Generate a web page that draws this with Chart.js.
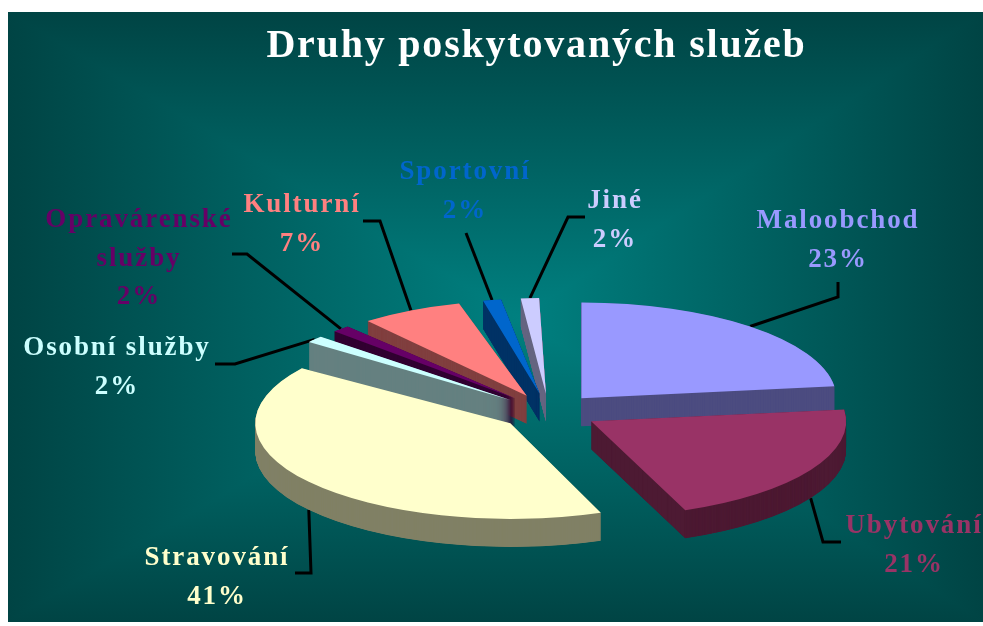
<!DOCTYPE html>
<html lang="cs">
<head>
<meta charset="utf-8">
<title>Druhy poskytovaných služeb</title>
<style>html,body{margin:0;padding:0;background:#fff}canvas{display:block}</style>
<script src="https://cdn.jsdelivr.net/npm/chart.js@4/dist/chart.umd.min.js"></script>
</head>
<body>
<canvas id="c" width="983" height="626"></canvas>
<script>
const titleText = 'Druhy poskytovaných služeb';
const categories = ['Maloobchod','Ubytování','Stravování','Osobní služby','Opravárenské služby','Kulturní','Sportovní','Jiné'];
const values = [23,21,41,2,2,7,2,2];
const topColors = ['#9999FF','#993366','#FFFFCC','#CCFFFF','#660066','#FF8080','#0066CC','#CCCCFF'];
const sideColors = ['#4D4D80','#4D1A33','#808066','#668080','#330033','#804040','#003366','#666680'];

// Layout of the annotations (text and leader elbows), separate from data
const labelLines = [['Maloobchod'],['Ubytování'],['Stravování'],['Osobní služby'],['Opravárenské','služby'],['Kulturní'],['Sportovní'],['Jiné']];
const labelCenters = [838,914,217,117,139,302,465,615];
const labelBaselines = [228,533,565,355,227,212,179,208];
const lineStep = 38.5;
const elbows = [
  [[838,282],[838,297]],
  [[841,542],[823,542]],
  [[295,573],[311,573]],
  [[215,364],[235,364]],
  [[232,254],[247,254]],
  [[363,221],[380,221]],
  [[466,233]],
  [[585,217],[568,217]]
];

const PIE = {cx:549, cy:412, radius:255, explode:49, tilt:0.375, depth:28};

const total = values.reduce((a,b)=>a+b,0);
// Chart.js moves an arc by offset/4
const offsetOption = PIE.explode*4;

function project(arc, ctx, dy){
  ctx.translate(PIE.cx, PIE.cy+dy);
  ctx.scale(1, PIE.tilt);
  ctx.translate(-arc.x, -arc.y);
}
function paintArc(chart, arc, color, dy){
  const ctx = chart.ctx, orig = arc.options, origR = arc.outerRadius;
  const o = Object.create(orig);
  o.backgroundColor = color;
  arc.options = o;
  // Chart.js also grows narrow exploded arcs by offset/4 * fix; take that back out
  const fix = 1 - Math.sin(Math.min(Math.PI, arc.circumference));
  arc.outerRadius = origR - PIE.explode*fix;
  ctx.save();
  project(arc, ctx, dy);
  arc.draw(ctx);
  ctx.restore();
  arc.options = orig;
  arc.outerRadius = origR;
}
function rimPoint(arc){
  const mid = (arc.startAngle+arc.endAngle)/2;
  const ax = PIE.cx + Math.cos(mid)*PIE.explode;
  const ay = PIE.cy + Math.sin(mid)*PIE.explode*PIE.tilt;
  return {x: ax+Math.cos(mid)*PIE.radius,
          y: ay+Math.sin(mid)*PIE.radius*PIE.tilt + (Math.sin(mid)>0.3?PIE.depth:0)};
}

const pie3d = {
  id:'pie3d',
  beforeDraw(chart){
    const ctx = chart.ctx, W = chart.width, H = chart.height;
    ctx.save();
    ctx.fillStyle = '#fff';
    ctx.fillRect(0,0,W,H);
    const x0=8,y0=12,x1=983,y1=622,mx=520,my=318;
    const edge='#004444', mid='#008080';
    const gx = ctx.createLinearGradient(x0,0,x1,0);
    const px=(mx-x0)/(x1-x0);
    gx.addColorStop(0,edge);gx.addColorStop(px,mid);gx.addColorStop(1,edge);
    ctx.fillStyle = gx;
    ctx.fillRect(x0,y0,x1-x0,y1-y0);
    const gy = ctx.createLinearGradient(0,y0,0,y1);
    const py=(my-y0)/(y1-y0);
    gy.addColorStop(0,edge);gy.addColorStop(py,mid);gy.addColorStop(1,edge);
    ctx.globalCompositeOperation='darken';
    ctx.fillStyle = gy;
    ctx.fillRect(x0,y0,x1-x0,y1-y0);
    ctx.restore();
    ctx.letterSpacing = '1.8px';
  },
  beforeDatasetDraw(chart,args){
    const ctx = chart.ctx;
    const arcs = args.meta.data;
    const order = arcs.map((a,i)=>i).sort((p,q)=>{
      const mp=(arcs[p].startAngle+arcs[p].endAngle)/2, mq=(arcs[q].startAngle+arcs[q].endAngle)/2;
      return Math.sin(mp)-Math.sin(mq);
    });
    // leaders behind the slices
    ctx.save();
    ctx.strokeStyle='#000';ctx.lineWidth=3;ctx.lineJoin='miter';
    arcs.forEach((arc,i)=>{
      const r=rimPoint(arc);
      ctx.beginPath();
      elbows[i].forEach((p,k)=>k?ctx.lineTo(p[0],p[1]):ctx.moveTo(p[0],p[1]));
      ctx.lineTo(r.x,r.y);
      ctx.stroke();
    });
    ctx.restore();
    order.forEach(i=>{
      for(let d=PIE.depth;d>0;d-=0.25) paintArc(chart,arcs[i],sideColors[i],d);
      paintArc(chart,arcs[i],topColors[i],0);
    });
    return false;
  },
  afterDatasetsDraw(chart){
    const ctx = chart.ctx;
    ctx.save();
    ctx.font = 'bold 27px "Liberation Serif"';
    ctx.letterSpacing='1.9px';
    ctx.textAlign='center';
    ctx.textBaseline='alphabetic';
    categories.forEach((c,i)=>{
      ctx.fillStyle=topColors[i];
      const lines=[...labelLines[i],Math.round(values[i]/total*100)+'%'];
      lines.forEach((t,k)=>ctx.fillText(t,labelCenters[i],labelBaselines[i]+k*lineStep));
    });
    ctx.restore();
  }
};

new Chart(document.getElementById('c'),{
  type:'pie',
  data:{labels:categories,datasets:[{data:values,backgroundColor:topColors,borderWidth:0,offset:offsetOption}]},
  options:{
    responsive:false,animation:false,events:[],
    radius:PIE.radius,
    layout:{padding:{left:90}},
    plugins:{
      legend:{display:false},
      tooltip:{enabled:false},
      title:{display:true,text:titleText,fullSize:false,color:'#fff',
        font:{family:'"Liberation Serif"',size:40,weight:'bold'},padding:{top:23,bottom:0}}
    }
  },
  plugins:[pie3d]
});
</script>
</body>
</html>
